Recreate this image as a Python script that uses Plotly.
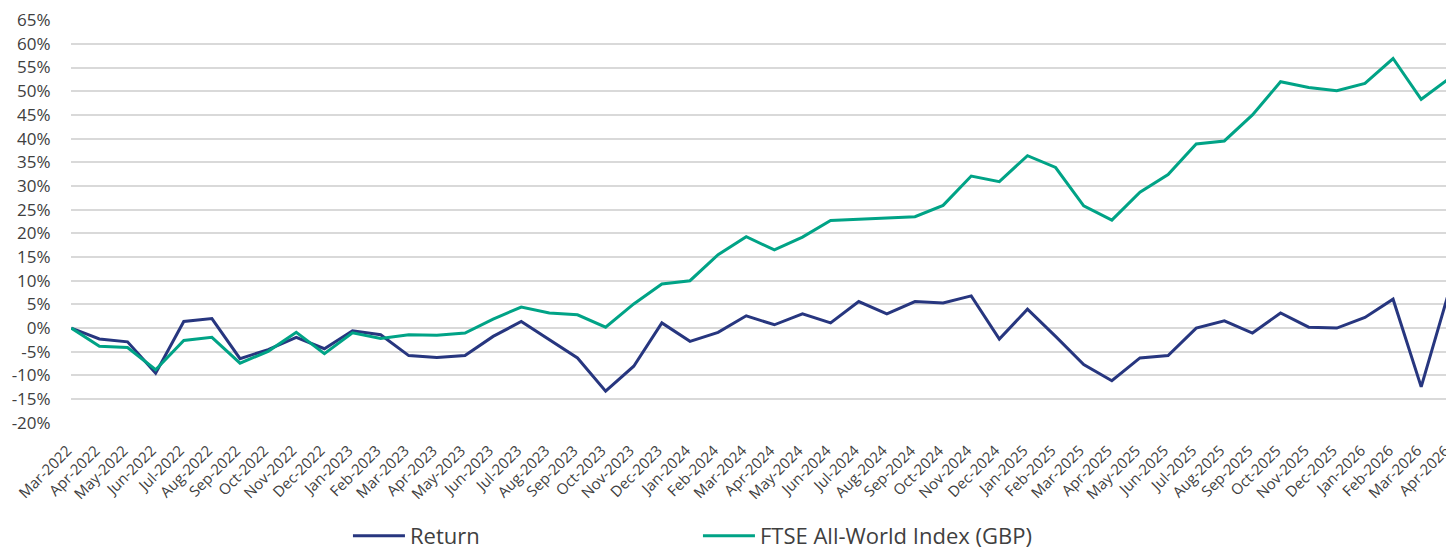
import plotly.graph_objects as go

months = ["Mar-2022","Apr-2022","May-2022","Jun-2022","Jul-2022","Aug-2022","Sep-2022","Oct-2022","Nov-2022","Dec-2022",
          "Jan-2023","Feb-2023","Mar-2023","Apr-2023","May-2023","Jun-2023","Jul-2023","Aug-2023","Sep-2023","Oct-2023","Nov-2023","Dec-2023",
          "Jan-2024","Feb-2024","Mar-2024","Apr-2024","May-2024","Jun-2024","Jul-2024","Aug-2024","Sep-2024","Oct-2024","Nov-2024","Dec-2024",
          "Jan-2025","Feb-2025","Mar-2025","Apr-2025","May-2025","Jun-2025","Jul-2025","Aug-2025","Sep-2025","Oct-2025","Nov-2025","Dec-2025",
          "Jan-2026","Feb-2026","Mar-2026","Apr-2026"]

ret = [0.0, -2.3, -2.9, -9.5, 1.4, 2.0, -6.45, -4.55, -1.95, -4.35,
       -0.55, -1.4, -5.8, -6.2, -5.8, -1.75, 1.4, -2.45, -6.3, -13.3, -8.05, 1.1,
       -2.8, -0.9, 2.6, 0.7, 3.0, 1.1, 5.6, 3.0, 5.6, 5.3, 6.8, -2.3,
       4.0, -1.75, -7.7, -11.1, -6.3, -5.8, 0.0, 1.55, -1.05, 3.2, 0.2, 0.0,
       2.25, 6.1, -12.4, 7.95]

ftse = [0.0, -3.85, -4.1, -8.8, -2.6, -1.95, -7.4, -4.9, -0.9, -5.4,
        -1.0, -2.2, -1.4, -1.5, -1.05, 1.9, 4.45, 3.2, 2.8, 0.2, 5.1, 9.3,
        10.0, 15.5, 19.3, 16.5, 19.2, 22.7, 23.0, 23.2, 23.5, 25.9, 32.1, 30.9,
        36.4, 33.9, 25.8, 22.8, 28.7, 32.4, 38.85, 39.5, 45.0, 52.0, 50.8, 50.1,
        51.65, 56.9, 48.3, 52.7]

ytick_vals = list(range(-20, 70, 5))
ytick_text = [f"{v}%" for v in ytick_vals]

FONT = "Open Sans, Liberation Sans, sans-serif"

fig = go.Figure()
fig.add_trace(go.Scatter(x=months, y=ret, name="Return", mode="lines",
                         line=dict(color="#27367F", width=3)))
fig.add_trace(go.Scatter(x=months, y=ftse, name="FTSE All-World Index (GBP)", mode="lines",
                         line=dict(color="#00A386", width=3)))

fig.update_layout(
    template="none",
    width=1446, height=541,
    margin=dict(l=63, r=3, t=12, b=126, pad=0, autoexpand=False),
    paper_bgcolor="white", plot_bgcolor="white",
    font=dict(family=FONT, color="#404040"),
    showlegend=True,
    legend=dict(orientation="h", xref="container", yref="container",
                x=0.2351, xanchor="left", y=0.024, yanchor="middle",
                font=dict(size=22, color="#404040"),
                entrywidth=283, entrywidthmode="pixels",
                itemwidth=52, tracegroupgap=0, bgcolor="rgba(0,0,0,0)"),
    xaxis=dict(type="category", range=[-0.01, 49.06], tickangle=-45, showgrid=False,
               automargin=False, showline=False, zeroline=False,
               ticks="outside", ticklen=12, tickcolor="rgba(0,0,0,0)",
               ticklabelshift=-4,
               tickfont=dict(size=15, color="#404040")),
    yaxis=dict(range=[-20.03, 65.03], tickvals=ytick_vals, ticktext=ytick_text,
               automargin=False,
               showgrid=True, gridcolor="#D9D9D9", gridwidth=1.5, zeroline=False,
               showline=False, ticks="outside", ticklen=16, tickcolor="rgba(0,0,0,0)",
               tickfont=dict(size=17, color="#404040")),
)

fig.write_html("out.html")
